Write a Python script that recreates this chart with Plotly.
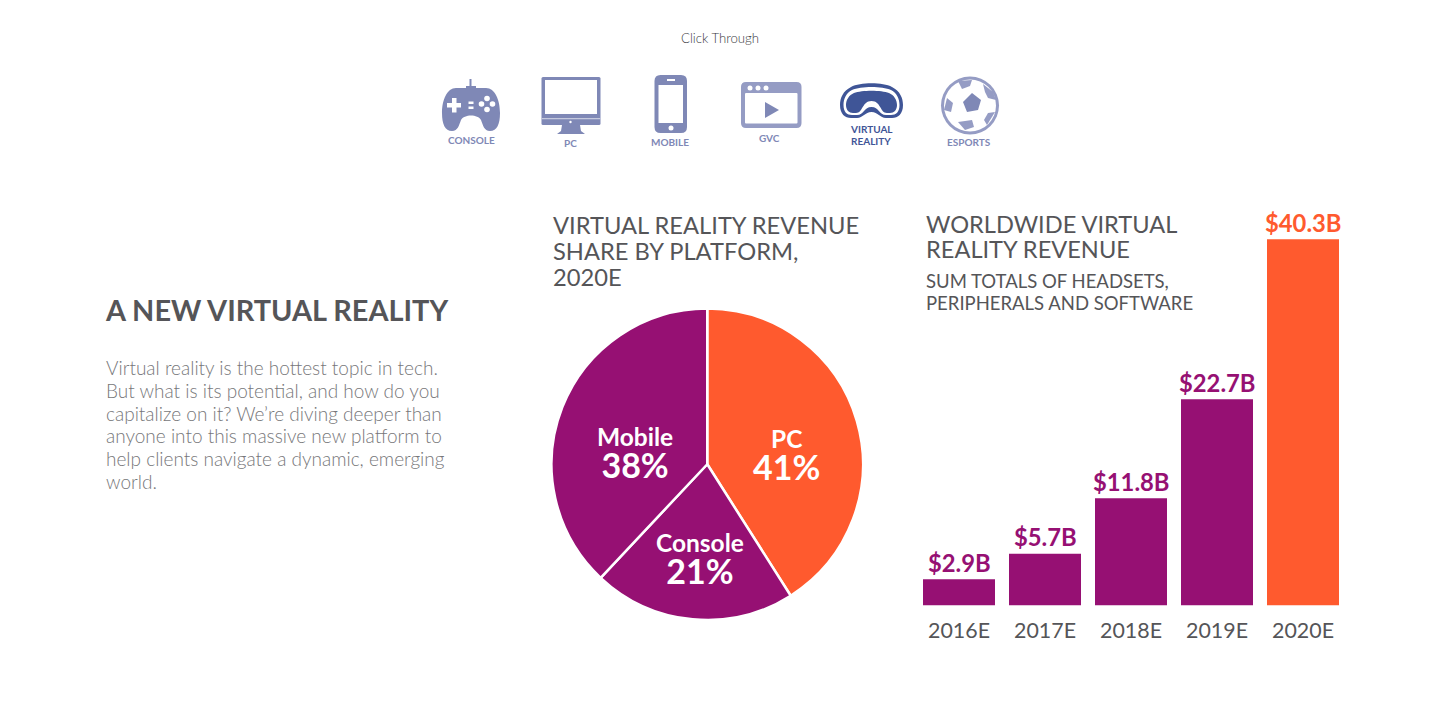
import plotly.graph_objects as go

W, H = 1440, 720
PURPLE, ORANGE = "#961073", "#FF5A2E"
ICON, ICON_LIGHT, ICON_DARK = "#7F88B6", "#959CC4", "#3F5597"
TITLE, BODY = "#555558", "#77777A"

# ---- data
pie_labels = ["PC", "Console", "Mobile"]
pie_values = [41, 21, 38]
pie_colors = [ORANGE, PURPLE, PURPLE]

years = ["2016E", "2017E", "2018E", "2019E", "2020E"]
revenue = [2.9, 5.7, 11.8, 22.7, 40.3]
revenue_labels = ["$2.9B", "$5.7B", "$11.8B", "$22.7B", "$40.3B"]
bar_colors = [PURPLE, PURPLE, PURPLE, PURPLE, ORANGE]

heading = "A NEW VIRTUAL REALITY"
paragraph = [
    "Virtual reality is the hottest topic in tech.",
    "But what is its potential, and how do you",
    "capitalize on it? We’re diving deeper than",
    "anyone into this massive new platform to",
    "help clients navigate a dynamic, emerging",
    "world.",
]
pie_title = ["VIRTUAL REALITY REVENUE", "SHARE BY PLATFORM,", "2020E"]
bar_title = ["WORLDWIDE VIRTUAL", "REALITY REVENUE"]
bar_subtitle = ["SUM TOTALS OF HEADSETS,", "PERIPHERALS AND SOFTWARE"]
nav_labels = ["CONSOLE", "PC", "MOBILE", "GVC", "VIRTUAL", "REALITY", "ESPORTS"]


def px(x):
    return x / W


def py(y):
    return 1 - y / H


fig = go.Figure()
fig.add_trace(go.Pie(
    labels=pie_labels, values=pie_values, sort=False, direction="clockwise", rotation=0,
    marker=dict(colors=pie_colors, line=dict(color="white", width=2.5)),
    textinfo="none", hoverinfo="label+percent", showlegend=False,
    domain=dict(x=[px(551.5), px(863)], y=[py(620), py(308.5)]),
))
fig.add_trace(go.Bar(
    x=years, y=revenue, marker=dict(color=bar_colors, line=dict(width=0)),
    showlegend=False, xaxis="x", yaxis="y", hoverinfo="x+y",
))

annotations = []


def txt(x, y, s, size, color, anchor="left", weight=400):
    annotations.append(dict(
        x=px(x), y=py(y), xref="paper", yref="paper", text=s, showarrow=False,
        xanchor=anchor, yanchor="middle", borderpad=0,
        font=dict(family="Lato", size=size, color=color, weight=weight),
    ))


txt(720, 38, "Click Through", 13.2, "#3c3c44", "center", 300)
txt(103.5, 309, heading, 28.9, TITLE, weight=700)
for y, s in zip([367, 390, 413, 436, 459, 482], paragraph):
    txt(105, y, s, 19, BODY, weight=300)
for y, s in zip([224.5, 250.5, 276.5], pie_title):
    txt(552, y, s, 23.7, TITLE)
for y, s in zip([223.5, 249], bar_title):
    txt(925, y, s, 23.6, TITLE)
for y, s in zip([281, 303], bar_subtitle):
    txt(925, y, s, 18.5, TITLE)

# pie labels
for x, y, label, value in [
    (787, 455, pie_labels[0], pie_values[0]),
    (700, 559.5, pie_labels[1], pie_values[1]),
    (635, 453.5, pie_labels[2], pie_values[2]),
]:
    txt(x, y, f'{label}<br><span style="font-size:34px">{value}%</span>', 24.5, "white", "center", 700)

# bar value labels, anchored to the data
for year, value, label, color in zip(years, revenue, revenue_labels, bar_colors):
    annotations.append(dict(
        x=year, y=value, xref="x", yref="y", text=label, showarrow=False,
        xanchor="center", yanchor="bottom", yshift=1.3, borderpad=0,
        font=dict(family="Lato", size=23.8, color=color, weight=700),
    ))

# nav labels
for (x, y), s, c in zip(
    [(471, 140), (570, 143), (670, 142), (769, 138), (871, 129), (871, 141), (969, 142)],
    nav_labels, [ICON, ICON, ICON, ICON, ICON_DARK, ICON_DARK, ICON],
):
    txt(x, y, s, 10, c, "center", 700)

shapes = []


def path(d, fill=None, line=None, lw=0):
    shapes.append(dict(
        type="path", path=d, xref="x3", yref="y3", layer="above",
        fillcolor=fill or "rgba(0,0,0,0)",
        line=dict(color=line or "rgba(0,0,0,0)", width=lw),
    ))


def rect(x0, y0, x1, y1, fill):
    shapes.append(dict(type="rect", x0=x0, y0=y0, x1=x1, y1=y1, xref="x3", yref="y3",
                       layer="above", fillcolor=fill, line=dict(width=0)))


def circle(cx, cy, r, fill):
    shapes.append(dict(type="circle", x0=cx - r, y0=cy - r, x1=cx + r, y1=cy + r, xref="x3",
                       yref="y3", layer="above", fillcolor=fill, line=dict(width=0)))


def rrect(x0, y0, x1, y1, r):
    return (f"M{x0+r},{y0} L{x1-r},{y0} Q{x1},{y0} {x1},{y0+r} L{x1},{y1-r} Q{x1},{y1} {x1-r},{y1} "
            f"L{x0+r},{y1} Q{x0},{y1} {x0},{y1-r} L{x0},{y0+r} Q{x0},{y0} {x0+r},{y0} Z")


# console
path("M470.5,79 L470.5,86", line=ICON, lw=2)
path("M466,88 L466,86 L476,86 L476,88 L486,88 C495,88 500,100 500,113 C500,124 497,131 490,131 "
     "C484,131 483,125 481,120 C478,114 464,114 461,120 C459,125 458,131 452,131 "
     "C445,131 442,124 442,113 C442,100 447,88 456,88 Z", fill=ICON)
rect(447, 103, 461, 107.5, "white")
rect(452, 98, 456.5, 112.5, "white")
rect(468.5, 101.5, 473.5, 104, "white")
rect(468.5, 106.5, 473.5, 109, "white")
for cx, cy in [(487, 98.5), (481.5, 104), (492.5, 104), (487, 109.5)]:
    circle(cx, cy, 2.8, "white")

# pc
path(rrect(541.5, 77, 600.5, 125, 1.5), fill=ICON)
rect(545, 80, 597, 114, "white")
rect(541.5, 118, 600.5, 119.2, "#C5C9DE")
path("M562,125 L580,125 L581,131 L585,134 L557,134 L561,131 Z", fill=ICON)
circle(570.5, 122, 1.2, "white")

# mobile
path(rrect(654.5, 75, 687, 133, 6), fill=ICON)
rect(658.5, 85, 683, 123, "white")
circle(671, 128, 2.5, "white")
rect(667, 79, 675, 81, "white")

# gvc
path(rrect(741, 82, 801.5, 128, 5), fill=ICON_LIGHT)
path(rrect(745, 93, 797.5, 123.5, 1), fill="white")
for cx in (750, 758, 766):
    circle(cx, 88, 2.5, "white")
path("M765,102 L779,110 L765,118 Z", fill=ICON)

# vr
path("M851,87 C860,82 883,82 892,87 C900,91 903,98 903,105 C903,114 898,118 892,118 L886,118 "
     "C880,118 878,112 871.5,112 C865,112 863,118 857,118 L851,118 C845,118 840,114 840,105 "
     "C840,98 843,91 851,87 Z", fill=ICON_DARK)
path("M852,90 C861,86 882,86 891,90 C897,93 899.5,99 899.5,105 C899.5,112 896,115 891,115 L886,115 "
     "C879,115 879,107 871.5,107 C864,107 864,115 857,115 L852,115 C847,115 843.5,112 843.5,105 "
     "C843.5,99 846,93 852,90 Z", fill="white")
path("M854,93 C862,90 881,90 889,93 C894,95 897,100 897,105 C897,110 894,113 890,113 L887,113 "
     "C880,113 881,101 871.5,101 C862,101 863,113 856,113 L853,113 C849,113 846,110 846,105 "
     "C846,100 849,95 854,93 Z", fill=ICON_DARK)

# esports
circle(970, 105.5, 29, ICON_LIGHT)
circle(970, 105.5, 26, "white")
path("M972,93 L981,100 L978,110 L967,112 L963,102 Z", fill=ICON)
path("M958,81 L972,80 L970,86 L962,89 Z", fill=ICON_LIGHT)
path("M983,84 L993,92 L996,100 L988,98 L985,92 Z", fill=ICON_LIGHT)
path("M995,112 L987,125 L984,120 L988,113 Z", fill=ICON_LIGHT)
path("M958,122 L972,120 L974,127 L965,130 Z", fill=ICON_LIGHT)
path("M947,98 L953,103 L951,112 L944,110 Z", fill=ICON_LIGHT)

fig.update_layout(
    width=W, height=H, margin=dict(l=0, r=0, t=0, b=0, pad=0),
    paper_bgcolor="white", plot_bgcolor="rgba(0,0,0,0)",
    bargap=14 / 86, font=dict(family="Lato"),
    annotations=annotations, shapes=shapes,
    xaxis=dict(domain=[px(916), px(1346)], anchor="y", type="category", showgrid=False, zeroline=False,
               showline=False, ticks="", ticklen=0,
               tickfont=dict(family="Lato", size=21.4, color=TITLE), ticklabelstandoff=10),
    yaxis=dict(domain=[py(605.5), py(200)], range=[0, 405.5 / 9.09], showgrid=False, zeroline=False,
               showline=False, showticklabels=False, ticks=""),
    xaxis3=dict(range=[0, W], domain=[0, 1], visible=False, fixedrange=True, anchor="y3"),
    yaxis3=dict(range=[H, 0], domain=[0, 1], visible=False, fixedrange=True, anchor="x3"),
)

fig.write_html("out.html", config=dict(displayModeBar=False),
               post_script="document.body.style.margin='0';")
